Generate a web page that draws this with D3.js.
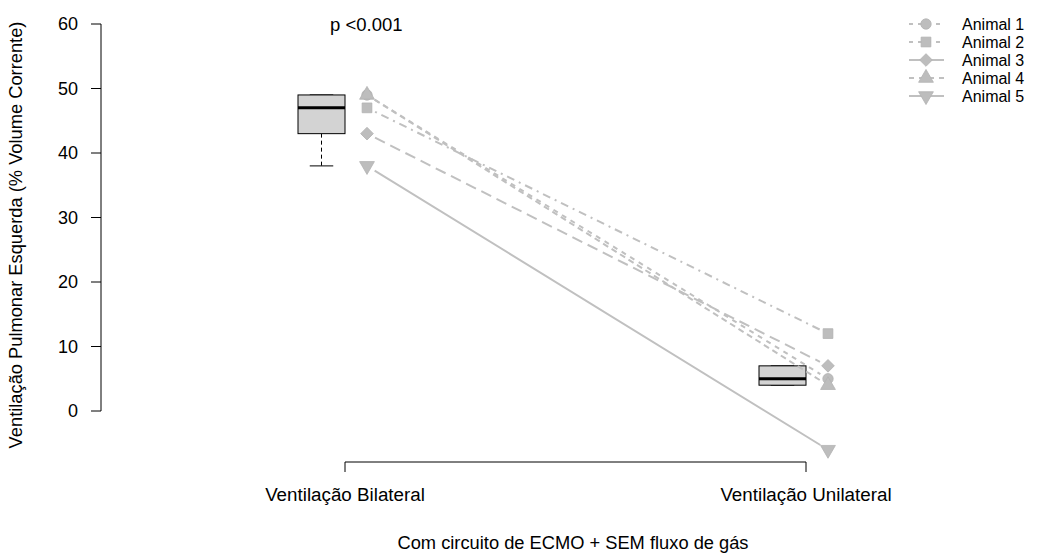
<!DOCTYPE html>
<html>
<head>
<meta charset="utf-8">
<script src="https://cdn.jsdelivr.net/npm/d3@7"></script>
<style>
  body { margin: 0; background: #fff; }
  text { font-family: "Liberation Sans", Arial, sans-serif; fill: #000; }
</style>
</head>
<body>
<div class="main"></div>
<script>
// categories and values
const categories = ["Ventilação Bilateral", "Ventilação Unilateral"];
const animals = ["Animal 1", "Animal 2", "Animal 3", "Animal 4", "Animal 5"];
const bilateral = [49, 47, 43, 49, 38];
const unilateral = [5, 12, 7, 4, -6];
const yTicks = [0, 10, 20, 30, 40, 50, 60];
const pLabel = "p <0.001";
const yTitle = "Ventilação Pulmonar Esquerda (% Volume Corrente)";
const xTitle = "Com circuito de ECMO + SEM fluxo de gás";

let fullwidth = 1037;
let fullheight = 553;

const svg = d3
  .select(".main")
  .append("svg")
  .attr("width", fullwidth)
  .attr("height", fullheight);

const x = d3.scalePoint().domain(categories).range([345, 806]);
const y = d3.scaleLinear().domain([0, 60]).range([411, 24]);

const grey = "#c0c0c0";
const markGrey = "#bdbdbd";
const dashes = ["5,5", "2,5,8,5", "11,6", "6,4", null];
const shapes = [
  d3.symbolCircle,
  d3.symbolSquare,
  d3.symbolSquare,
  d3.symbolTriangle,
  d3.symbolTriangle,
];
const sizes = [85, 95, 80, 95, 95];
const rot = [0, 0, 45, 0, 180];

function marker(g, i, cx, cy) {
  g.append("path")
    .attr("d", d3.symbol().type(shapes[i]).size(sizes[i])())
    .attr("transform", "translate(" + cx + "," + cy + ") rotate(" + rot[i] + ")")
    .attr("fill", markGrey)
    .attr("stroke", "#b3b3b3")
    .attr("stroke-width", 0.8);
}

// y axis
const yAxis = svg.append("g").attr("transform", "translate(101,0)");
yAxis.append("line")
  .attr("x1", 0).attr("x2", 0)
  .attr("y1", y(0)).attr("y2", y(60))
  .attr("stroke", "#000");
yTicks.forEach((t) => {
  yAxis.append("line")
    .attr("x1", -10).attr("x2", 0)
    .attr("y1", y(t)).attr("y2", y(t))
    .attr("stroke", "#000");
  yAxis.append("text")
    .attr("x", -23).attr("y", y(t))
    .attr("dy", "0.35em")
    .attr("text-anchor", "end")
    .style("font-size", "18px")
    .text(t);
});
svg.append("text")
  .attr("transform", "translate(22," + 235 + ") rotate(-90)")
  .attr("text-anchor", "middle")
  .style("font-size", "18.3px")
  .text(yTitle);

// x axis
const xAxis = svg.append("g");
xAxis.append("line")
  .attr("x1", x(categories[0])).attr("x2", x(categories[1]))
  .attr("y1", 462).attr("y2", 462)
  .attr("stroke", "#000");
categories.forEach((c) => {
  xAxis.append("line")
    .attr("x1", x(c)).attr("x2", x(c))
    .attr("y1", 462).attr("y2", 472)
    .attr("stroke", "#000");
  xAxis.append("text")
    .attr("x", x(c)).attr("y", 501)
    .attr("text-anchor", "middle")
    .style("font-size", "18.8px")
    .text(c);
});
svg.append("text")
  .attr("x", 573).attr("y", 549)
  .attr("text-anchor", "middle")
  .style("font-size", "18.3px")
  .text(xTitle);

svg.append("text")
  .attr("x", 330).attr("y", 31)
  .style("font-size", "18.5px")
  .text(pLabel);

// boxes, shifted left of each category
const boxW = 47;
[bilateral, unilateral].forEach((vals, k) => {
  const s = vals.slice().sort(d3.ascending);
  const q1 = d3.quantile(s, 0.25);
  const med = d3.quantile(s, 0.5);
  const q3 = d3.quantile(s, 0.75);
  const iqr = q3 - q1;
  const lo = d3.min(s.filter((v) => v >= q1 - 1.5 * iqr));
  const hi = d3.max(s.filter((v) => v <= q3 + 1.5 * iqr));
  const x1 = x(categories[k]) - boxW;
  const xc = x1 + boxW / 2;
  const g = svg.append("g");
  g.append("line")
    .attr("x1", xc).attr("x2", xc)
    .attr("y1", y(q1)).attr("y2", y(lo))
    .attr("stroke", "#000").attr("stroke-dasharray", "4,3");
  g.append("line")
    .attr("x1", xc).attr("x2", xc)
    .attr("y1", y(q3)).attr("y2", y(hi))
    .attr("stroke", "#000").attr("stroke-dasharray", "4,3");
  [lo, hi].forEach((v) => {
    g.append("line")
      .attr("x1", xc - boxW / 4).attr("x2", xc + boxW / 4)
      .attr("y1", y(v)).attr("y2", y(v))
      .attr("stroke", "#000");
  });
  g.append("rect")
    .attr("x", x1).attr("y", y(q3))
    .attr("width", boxW).attr("height", y(q1) - y(q3))
    .attr("fill", "#d3d3d3").attr("stroke", "#000");
  g.append("line")
    .attr("x1", x1).attr("x2", x1 + boxW)
    .attr("y1", y(med)).attr("y2", y(med))
    .attr("stroke", "#000").attr("stroke-width", 3);
});

// paired lines, drawn with gaps like type="b"
const off = 22;
const gap = 9;
const pg = svg.append("g");
animals.forEach((a, i) => {
  const ax = x(categories[0]) + off, ay = y(bilateral[i]);
  const bx = x(categories[1]) + off, by = y(unilateral[i]);
  const len = Math.hypot(bx - ax, by - ay);
  const ux = (bx - ax) / len, uy = (by - ay) / len;
  pg.append("line")
    .attr("x1", ax + ux * gap).attr("y1", ay + uy * gap)
    .attr("x2", bx - ux * gap).attr("y2", by - uy * gap)
    .attr("stroke", grey)
    .attr("stroke-width", 2)
    .attr("stroke-dasharray", dashes[i]);
});
animals.forEach((a, i) => {
  marker(pg, i, x(categories[0]) + off, y(bilateral[i]));
  marker(pg, i, x(categories[1]) + off, y(unilateral[i]));
});

// legend
const lg = svg.append("g");
const legDash = ["4,5", "4,5", null, "5,5", null];
animals.forEach((a, i) => {
  const ly = 24 + i * 18;
  lg.append("line")
    .attr("x1", 909).attr("x2", 944)
    .attr("y1", ly).attr("y2", ly)
    .attr("stroke", grey)
    .attr("stroke-width", 2)
    .attr("stroke-dasharray", legDash[i]);
  marker(lg, i, 926, ly);
  lg.append("text")
    .attr("x", 962).attr("y", ly)
    .attr("dy", "0.35em")
    .style("font-size", "16px")
    .text(a);
});
</script>
</body>
</html>
